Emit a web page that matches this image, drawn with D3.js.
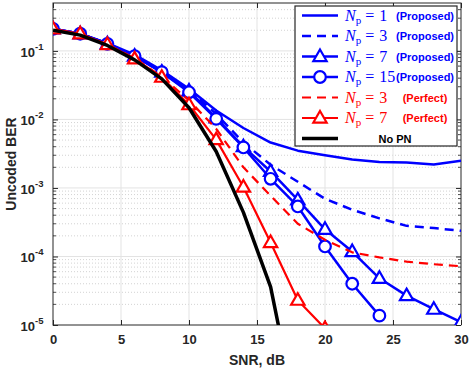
<!DOCTYPE html>
<html>
<head>
<meta charset="utf-8">
<script src="https://cdn.jsdelivr.net/npm/d3@7"></script>
<style>
  body { margin: 0; background: #fff; }
  svg { display: block; font-family: "Liberation Sans", Arial, sans-serif; }
</style>
</head>
<body>
<div id="chart"></div>
<script>
// SNR grid (dB)
var snr = [0, 2, 4, 6, 8, 10, 12, 14, 16, 18, 20, 22, 24, 26, 28, 30];

// uncoded BER
var np1Proposed = [0.21, 0.178, 0.13, 0.088, 0.052, 0.028, 0.0135, 0.0075, 0.0046, 0.0035, 0.0030, 0.0026, 0.0024, 0.00235, 0.0022, 0.0025];
var np3Proposed = [0.21, 0.178, 0.128, 0.085, 0.05, 0.027, 0.012, 0.0046, 0.00218, 0.00123, 0.000695, 0.00048, 0.00036, 0.00028, 0.00026, 0.000237];
var np7Proposed = [0.21, 0.178, 0.127, 0.084, 0.049, 0.026, 0.0105, 0.0040, 0.00174, 0.00067, 0.000249, 0.000118, 0.000048, 0.0000268, 0.000017, 0.000011];
var np15Proposed = [0.21, 0.178, 0.127, 0.084, 0.049, 0.0249, 0.0102, 0.0039, 0.00136, 0.000537, 0.00014, 0.00004, 0.0000137];
var np3Perfect = [0.2, 0.175, 0.124, 0.078, 0.042, 0.019, 0.0073, 0.002, 0.00077, 0.0003, 0.000175, 0.000115, 0.000097, 0.000084, 0.000077, 0.000072];
var np7Perfect = [0.21, 0.178, 0.124, 0.0766, 0.0413, 0.0164, 0.00507, 0.00103, 0.00016, 0.000023, 0.0000089];
var noPN = [0.2, 0.17, 0.12, 0.074, 0.039, 0.0148, 0.0034, 0.00044, 0.000036, 0.0000004];

var xTicks = [0, 5, 10, 15, 20, 25, 30];
var yTicks = [-5, -4, -3, -2, -1]; // exponents

var width = 473, height = 369;
var margin = {top: 3, right: 12, bottom: 44, left: 53};
var plotW = width - margin.left - margin.right,
    plotH = height - margin.top - margin.bottom;

var x = d3.scaleLinear().domain([0, 30]).range([margin.left, margin.left + plotW]);
var y = d3.scaleLog().domain([1e-5, 0.5]).range([margin.top + plotH, margin.top]);

var axisColor = "#262626";
var blue = "#0000ff", red = "#ff0000";

var svg = d3.select("#chart").append("svg")
    .attr("width", width)
    .attr("height", height);

svg.append("defs").append("clipPath").attr("id", "plotclip")
    .append("rect")
    .attr("x", margin.left).attr("y", margin.top)
    .attr("width", plotW).attr("height", plotH);

// minor grid (horizontal, dotted)
var minorVals = [];
for (var e = -5; e <= -1; e++) {
    for (var m = 2; m <= 9; m++) {
        var v = m * Math.pow(10, e);
        if (v < 0.5) minorVals.push(v);
    }
}
svg.append("g").selectAll("line").data(minorVals).join("line")
    .attr("x1", margin.left).attr("x2", margin.left + plotW)
    .attr("y1", function (d) { return y(d); })
    .attr("y2", function (d) { return y(d); })
    .attr("stroke", "#c8c8c8")
    .attr("stroke-width", 0.8)
    .attr("stroke-dasharray", "1,2");

// major grid
svg.append("g").selectAll("line").data(xTicks.slice(1, -1)).join("line")
    .attr("x1", function (d) { return x(d); })
    .attr("x2", function (d) { return x(d); })
    .attr("y1", margin.top).attr("y2", margin.top + plotH)
    .attr("stroke", "#e3e3e3").attr("stroke-width", 1);
svg.append("g").selectAll("line").data(yTicks.slice(1)).join("line")
    .attr("x1", margin.left).attr("x2", margin.left + plotW)
    .attr("y1", function (d) { return y(Math.pow(10, d)); })
    .attr("y2", function (d) { return y(Math.pow(10, d)); })
    .attr("stroke", "#e3e3e3").attr("stroke-width", 1);

// axes (ticks inward)
var yMajor = yTicks.map(function (d) { return Math.pow(10, d); });

svg.append("g")
    .attr("transform", "translate(0," + (margin.top + plotH) + ")")
    .call(d3.axisBottom(x).tickValues(xTicks).tickSize(-5).tickPadding(10).tickFormat(d3.format("d")))
    .call(function (g) {
        g.select(".domain").remove();
        g.selectAll("line").attr("stroke", axisColor);
        g.selectAll("text").attr("fill", axisColor)
            .style("font-size", "13px").style("font-weight", "bold");
    });
svg.append("g")
    .attr("transform", "translate(0," + margin.top + ")")
    .call(d3.axisTop(x).tickValues(xTicks).tickSize(-5).tickFormat(""))
    .call(function (g) {
        g.select(".domain").remove();
        g.selectAll("line").attr("stroke", axisColor);
    });

function yAxisSide(g, left) {
    var ax = left ? d3.axisLeft(y) : d3.axisRight(y);
    g.call(ax.tickValues(yMajor).tickSize(-5).tickFormat(""))
        .call(function (s) {
            s.select(".domain").remove();
            s.selectAll("line").attr("stroke", axisColor);
        });
    g.append("g").selectAll("line").data(minorVals).join("line")
        .attr("x1", 0).attr("x2", left ? 3 : -3)
        .attr("y1", function (d) { return y(d); })
        .attr("y2", function (d) { return y(d); })
        .attr("stroke", axisColor).attr("stroke-width", 0.8);
}
svg.append("g").attr("transform", "translate(" + margin.left + ",0)")
    .call(function (g) { yAxisSide(g, true); });
svg.append("g").attr("transform", "translate(" + (margin.left + plotW) + ",0)")
    .call(function (g) { yAxisSide(g, false); });

// y tick labels 10^k
var yLab = svg.append("g").selectAll("text").data(yTicks).join("text")
    .attr("x", margin.left - 18)
    .attr("y", function (d) { return y(Math.pow(10, d)) + 6; })
    .attr("text-anchor", "end")
    .attr("fill", axisColor)
    .style("font-size", "13px").style("font-weight", "bold")
    .text("10");
svg.append("g").selectAll("text").data(yTicks).join("text")
    .attr("x", margin.left - 18)
    .attr("y", function (d) { return y(Math.pow(10, d)) - 1; })
    .attr("fill", axisColor)
    .style("font-size", "9.5px").style("font-weight", "bold")
    .text(function (d) { return "-" + Math.abs(d); });

// frame
svg.append("rect")
    .attr("x", margin.left).attr("y", margin.top)
    .attr("width", plotW).attr("height", plotH)
    .attr("fill", "none").attr("stroke", axisColor).attr("stroke-width", 1);

// axis titles
svg.append("text")
    .attr("x", x(15)).attr("y", 365)
    .attr("text-anchor", "middle").attr("fill", axisColor)
    .style("font-size", "14px").style("font-weight", "bold")
    .text("SNR, dB");
svg.append("text")
    .attr("transform", "translate(16," + (y(1e-5) + y(0.5)) / 2 + ") rotate(-90)")
    .attr("text-anchor", "middle").attr("fill", axisColor)
    .style("font-size", "14px").style("font-weight", "bold")
    .text("Uncoded BER");

// series
var series = [
    {vals: np1Proposed, color: blue, width: 2.5, dash: null, marker: null, label: "1", tag: "(Proposed)"},
    {vals: np3Proposed, color: blue, width: 2.5, dash: "9,6", marker: null, label: "3", tag: "(Proposed)"},
    {vals: np7Proposed, color: blue, width: 2.5, dash: null, marker: "tri", label: "7", tag: "(Proposed)"},
    {vals: np15Proposed, color: blue, width: 2.5, dash: null, marker: "circ", label: "15", tag: "(Proposed)"},
    {vals: np3Perfect, color: red, width: 2.2, dash: "9,6", marker: null, label: "3", tag: "(Perfect)"},
    {vals: np7Perfect, color: red, width: 2.2, dash: null, marker: "tri", label: "7", tag: "(Perfect)"},
    {vals: noPN, color: "#000", width: 3.5, dash: null, marker: null, label: null, tag: "No PN"}
];

var line = d3.line()
    .x(function (d) { return x(d[0]); })
    .y(function (d) { return y(d[1]); });

var plot = svg.append("g").attr("clip-path", "url(#plotclip)");

function drawMarker(g, type, cx, cy, color) {
    if (type === "tri") {
        var r = 7;
        g.append("path")
            .attr("d", "M" + cx + "," + (cy - r) + "L" + (cx + r * 0.95) + "," + (cy + r * 0.65) +
                "L" + (cx - r * 0.95) + "," + (cy + r * 0.65) + "Z")
            .attr("fill", "#fff").attr("stroke", color).attr("stroke-width", 2.2);
    } else if (type === "circ") {
        g.append("circle").attr("cx", cx).attr("cy", cy).attr("r", 5.8)
            .attr("fill", "#fff").attr("stroke", color).attr("stroke-width", 2.2);
    }
}

series.forEach(function (s) {
    var pts = s.vals.map(function (v, i) { return [snr[i], v]; });
    var g = plot.append("g");
    g.append("path").datum(pts)
        .attr("d", line)
        .attr("fill", "none")
        .attr("stroke", s.color)
        .attr("stroke-width", s.width)
        .attr("stroke-linejoin", "round")
        .attr("stroke-dasharray", s.dash);
    if (s.marker) {
        pts.forEach(function (p) { drawMarker(g, s.marker, x(p[0]), y(p[1]), s.color); });
    }
});

// legend
var lg = svg.append("g");
lg.append("rect")
    .attr("x", 295).attr("y", 6).attr("width", 162).attr("height", 140)
    .attr("fill", "#fff").attr("stroke", axisColor).attr("stroke-width", 1.2);

series.forEach(function (s, i) {
    var cy = 15.5 + i * 20.5;
    var row = lg.append("g");
    row.append("line")
        .attr("x1", 302).attr("x2", 338).attr("y1", cy).attr("y2", cy)
        .attr("stroke", s.color).attr("stroke-width", s.width)
        .attr("stroke-dasharray", s.dash);
    if (s.marker) drawMarker(row, s.marker, 320, cy, s.color);
    if (s.label) {
        var t = row.append("text")
            .attr("x", 345).attr("y", cy + 5)
            .attr("fill", s.color)
            .style("font-family", "'Liberation Serif', 'Times New Roman', serif")
            .style("font-size", "16px");
        t.append("tspan").style("font-style", "italic").text("N");
        t.append("tspan").attr("dy", 3).style("font-size", "11px").text("p");
        t.append("tspan").attr("dy", -3).attr("dx", 4).text("=");
        t.append("tspan").attr("dx", 5).text(s.label);
        row.append("text")
            .attr("x", 425).attr("y", cy + 4)
            .attr("text-anchor", "middle")
            .attr("fill", s.color)
            .style("font-size", "11px").style("font-weight", "bold")
            .text(s.tag);
    } else {
        row.append("text")
            .attr("x", 395).attr("y", cy + 4)
            .attr("text-anchor", "middle")
            .attr("fill", "#000")
            .style("font-size", "11px").style("font-weight", "bold")
            .text(s.tag);
    }
});
</script>
</body>
</html>
